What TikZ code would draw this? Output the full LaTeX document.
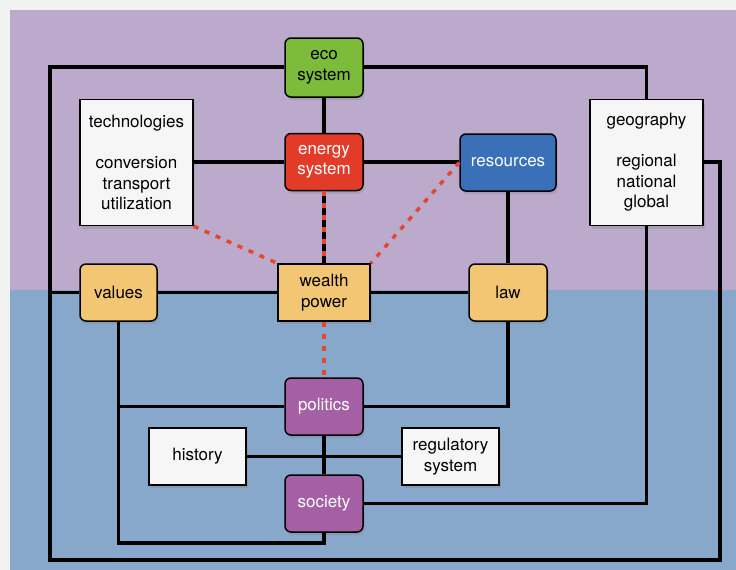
\documentclass[tikz,border=0pt]{standalone}
\usepackage{fontspec}
\setmainfont{TeX Gyre Heros}
\usetikzlibrary{shadows}
\definecolor{outergray}{HTML}{F2F2F2}
\definecolor{bgpurple}{HTML}{BBAACC}
\definecolor{bgblue}{HTML}{88A8CB}
\definecolor{ecogreen}{HTML}{7DBB3A}
\definecolor{energyred}{HTML}{E23C28}
\definecolor{resblue}{HTML}{3A70B8}
\definecolor{boxyellow}{HTML}{F3C673}
\definecolor{polpurple}{HTML}{A560A5}
\definecolor{boxwhite}{HTML}{F6F6F6}
\definecolor{dashred}{HTML}{E5462E}
\begin{document}
\begin{tikzpicture}[x=1pt,y=-1pt,
  every node/.style={font=\fontsize{17}{20.5}\selectfont, align=center, inner sep=0pt},
  box/.style={draw=black, line width=1.5pt, minimum width=78pt, minimum height=57pt,
    drop shadow={opacity=0.3, shadow xshift=1.5pt, shadow yshift=-3pt}},
  rbox/.style={box, rounded corners=6pt},
  sbox/.style={box, fill=boxwhite},
  conn/.style={draw=black, line width=3.3pt},
  reddash/.style={draw=dashred, line width=3.5pt, dash pattern=on 5pt off 7pt}]
\useasboundingbox (0,0) rectangle (736,570);
\fill[outergray] (0,0) rectangle (736,570);
\fill[bgpurple] (10,10) rectangle (736,290);
\fill[bgblue] (10,290) rectangle (736,570);

% nodes
\node[rbox, fill=ecogreen, minimum height=59pt] (eco) at (324,67.5) {eco\\system};
\node[rbox, fill=energyred, text=white] (energy) at (324,162) {energy\\system};
\node[rbox, fill=resblue, text=white, minimum width=96pt] (res) at (508,162.5) {resources};
\node[sbox, minimum width=113pt, minimum height=126pt] (tech) at (136.5,162.5) {technologies\\[20.5pt]conversion\\transport\\utilization};
\node[sbox, minimum width=113pt, minimum height=126pt] (geo) at (646.5,162.5) {geography\\[20.5pt]regional\\national\\global};
\node[rbox, fill=boxyellow, minimum width=77pt] (values) at (118.5,292.5) {values};
\node[rbox, fill=boxyellow, minimum width=92pt, rounded corners=0pt] (wealth) at (324,292.5) {wealth\\power};
\node[rbox, fill=boxyellow] (law) at (508,292.5) {law};
\node[rbox, fill=polpurple, text=white] (politics) at (324,406.5) {politics};
\node[sbox, minimum width=97pt] (history) at (197.5,456.5) {history};
\node[sbox, minimum width=97pt] (reg) at (450.5,456.5) {regulatory\\system};
\node[rbox, fill=polpurple, text=white] (society) at (324,503.5) {society};

% corner coordinates
\coordinate (cTL) at (50,67);
\coordinate (cBL) at (50,560);
\coordinate (cBR) at (720,560);
\coordinate (cR) at (720,162);
\coordinate (cVB) at (118.5,543);

% connectors
\draw[conn] (eco.west |- cTL) -- (cTL) -- (cBL) -- (cBR) -- (cR) -- (geo.east |- cR);
\draw[conn] (eco.east |- cTL) -| (geo.north);
\draw[conn] (eco.south) -- (energy.north);
\draw[conn] (tech.east |- energy.west) -- (energy.west);
\draw[conn] (energy.east) -- (res.west |- energy.east);
\draw[conn] (res.south) -- (law.north);
\draw[conn] (values.west -| cTL) -- (values.west);
\draw[conn] (values.east) -- (wealth.west);
\draw[conn] (wealth.east) -- (law.west);
\draw[conn] (energy.south) -- (wealth.north);
\draw[conn] (law.south) |- (politics.east);
\draw[conn] (values.south) -- (cVB) -| (society.south);
\draw[conn] (values.south |- politics.west) -- (politics.west);
\draw[conn] (politics.south) -- (society.north);
\draw[conn] (history.east) -- (reg.west);
\draw[conn] (society.east) -| (geo.south);

% red dashed links
\draw[reddash] (energy.south) -- (wealth.north);
\draw[reddash] (tech.south east) -- (wealth.north west);
\draw[reddash] (res.west) -- (wealth.north east);
\draw[reddash] (wealth.south) -- (politics.north);
\end{tikzpicture}
\end{document}
